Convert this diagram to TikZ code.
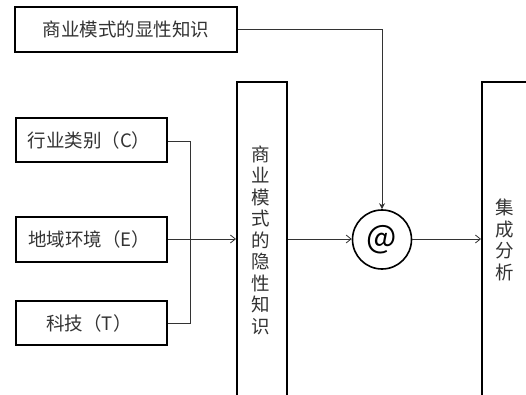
\documentclass[tikz,border=0pt]{standalone}
\usepackage{fontspec}
\setmainfont{Noto Sans CJK SC}
\usetikzlibrary{arrows.meta}
\begin{document}
\begin{tikzpicture}[x=1pt,y=-1pt,
  box/.style={draw=black, line width=1.6pt, inner sep=0pt, fill=white},
  lbl/.style={font=\fontsize{18.5}{21.5}\selectfont, text=black!80, inner sep=0pt, align=center},
  conn/.style={draw=black!80, line width=0.8pt},
  openarr/.style={-{Straight Barb[length=5pt,width=8pt,line width=0.8pt]}},
  fillarr/.style={-{Stealth[length=6pt,width=6pt]}}]
\useasboundingbox (0,0) rectangle (526,395);
\clip (0,0) rectangle (526,395);
% boxes
\node[box, minimum width=222pt, minimum height=45pt] (top) at (126,29.5) {};
\node[lbl] (toptext) at (126,29.5) {商业模式的显性知识};
\node[box, minimum width=151pt, minimum height=44pt] (c1) at (91.5,140) {};
\node[lbl] (c1text) at (89,140) {行业类别（C）};
\node[box, minimum width=151pt, minimum height=45pt] (c2) at (91.5,239.5) {};
\node[lbl] (c2text) at (89,239.5) {地域环境（E）};
\node[box, minimum width=151pt, minimum height=44pt] (c3) at (91.5,323) {};
\node[lbl] (c3text) at (89,323) {科技（T）};
\node[box, minimum width=50pt, minimum height=340pt, anchor=north west] (mid) at (236,81) {};
\node[lbl] (midtext) at (261,240) {商\\业\\模\\式\\的\\隐\\性\\知\\识};
\node[box, minimum width=60pt, minimum height=340pt, anchor=north west] (res) at (481,81) {};
\node[lbl] (restext) at (505,240) {集\\成\\分\\析};
\node[draw=black, line width=1.6pt, circle, minimum size=59pt, inner sep=0pt, font=\fontsize{32}{34}\selectfont] (at) at (382,239.5) {@};
% connectors
\coordinate (bus) at (190,141);
\draw[conn] (c1.east |- 0,141) -- (bus) |- (c3.east);
\draw[conn, openarr] (c2.east |- 0,239) -- (mid.west |- 0,239);
\draw[conn, openarr] (mid.east |- 0,239) -- (at.west |- 0,239);
\draw[conn, openarr] (at.east |- 0,239) -- (res.west |- 0,239);
\draw[conn, fillarr] (top.east) -| (at.north);
\end{tikzpicture}
\end{document}
